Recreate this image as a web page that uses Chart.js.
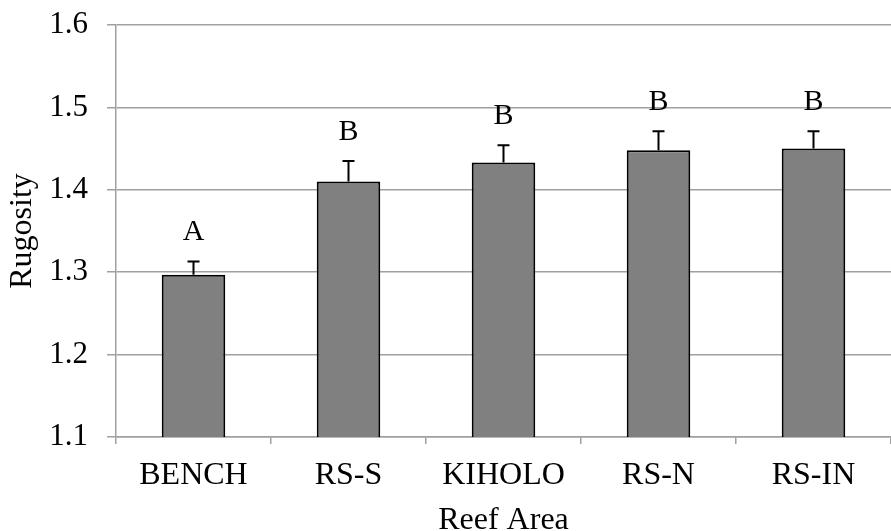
<!DOCTYPE html>
<html>
<head>
<meta charset="utf-8">
<script src="https://cdn.jsdelivr.net/npm/chart.js@4.4.1/dist/chart.umd.min.js"></script>
<style>
  html, body { margin:0; padding:0; background:#fff; }
  #wrap { width:891px; height:531px; }
</style>
</head>
<body>
<div id="wrap"><canvas id="chart" width="891" height="531"></canvas></div>
<script>
// ===== Data =====
const categories = ["BENCH", "RS-S", "KIHOLO", "RS-N", "RS-IN"];
const rugosity = [1.297, 1.410, 1.433, 1.448, 1.450];
const stdError = [0.016, 0.025, 0.021, 0.023, 0.021];
const groupLetters = ["A", "B", "B", "B", "B"];
const yMin = 1.1, yMax = 1.6, yStep = 0.1;

const FONT = "'Liberation Serif', 'Times New Roman', serif";
const GRID = "#a0a0a0";

// error bars + significance letters, drawn from the data through the y scale
const errorBars = {
  id: "errorBars",
  afterDatasetsDraw(chart){
    const { ctx, scales:{ y } } = chart;
    const meta = chart.getDatasetMeta(0);
    ctx.save();
    meta.data.forEach((bar, i)=>{
      const base = y.getPixelForValue(rugosity[i]);
      const top = y.getPixelForValue(rugosity[i] + stdError[i]);
      ctx.strokeStyle = "#000";
      ctx.lineWidth = 2;
      ctx.beginPath();
      ctx.moveTo(bar.x, base);
      ctx.lineTo(bar.x, top);
      ctx.moveTo(bar.x - 6, top);
      ctx.lineTo(bar.x + 6, top);
      ctx.stroke();

      ctx.fillStyle = "#000";
      ctx.font = "30px " + FONT;
      ctx.textAlign = "center";
      ctx.textBaseline = "middle";
      ctx.fillText(groupLetters[i], bar.x, top - 29);
    });
    ctx.restore();
  }
};

new Chart(document.getElementById("chart"), {
  type: "bar",
  data: {
    labels: categories,
    datasets: [{
      data: rugosity,
      backgroundColor: "#808080",
      borderColor: "#000",
      borderWidth: 2,
      borderSkipped: "bottom",
      barPercentage: 0.41,
      categoryPercentage: 1
    }]
  },
  options: {
    responsive: false,
    animation: false,
    layout: { padding: { top: 25, right: 0, left: 0, bottom: 0 } },
    plugins: { legend: { display:false }, tooltip: { enabled:false } },
    scales: {
      x: {
        afterFit(s){ s.height = 94; s.paddingLeft = 0; s.paddingRight = 0; },
        grid: { drawOnChartArea:false, drawTicks:true, tickLength:7, color:GRID, lineWidth:1.5 },
        border: { color:GRID, width:1.5 },
        ticks: { color:"#000", font:{ family:FONT, size:32 }, padding:12, maxRotation:0 },
        title: { display:true, text:"Reef Area", color:"#000", font:{ family:FONT, size:32, lineHeight:0.65 }, padding:{ top:0, bottom:0 } }
      },
      y: {
        min: yMin, max: yMax,
        afterFit(s){ s.width = 116; s.paddingTop = 0; s.paddingBottom = 0; },
        grid: { color:GRID, lineWidth:1.5, tickLength:9 },
        border: { color:GRID, width:1.5 },
        ticks: { stepSize:yStep, color:"#000", font:{ family:FONT, size:31 }, padding:19,
                 callback: v => Number(v).toFixed(1) },
        title: { display:true, text:"Rugosity", color:"#000", font:{ family:FONT, size:32 }, padding:{ top:3, bottom:0 } }
      }
    }
  },
  plugins: [errorBars]
});
</script>
</body>
</html>
